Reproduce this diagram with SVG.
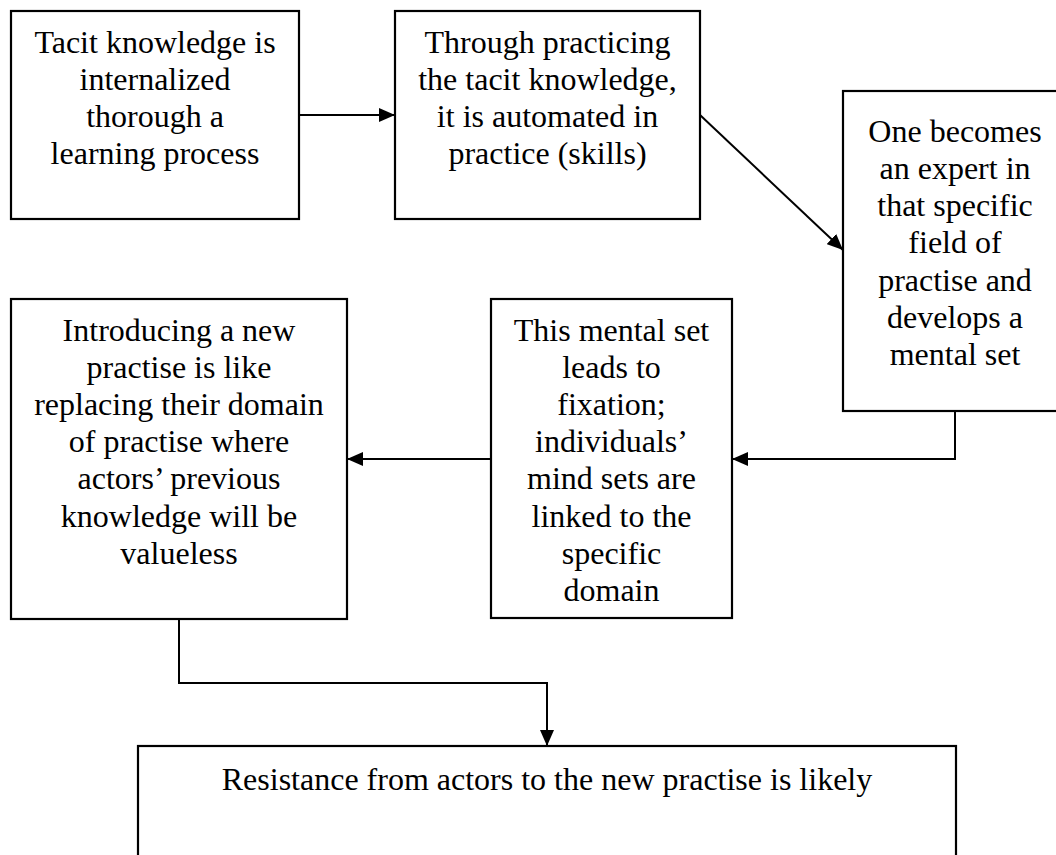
<svg xmlns="http://www.w3.org/2000/svg" width="1056" height="855" viewBox="0 0 1056 855">
<style>
.box{fill:#fff;stroke:#000;stroke-width:2.2}
.t{font-family:"Liberation Serif","Times New Roman",serif;font-size:32px;fill:#000;text-anchor:middle}
.c{fill:none;stroke:#000;stroke-width:2}
</style>
<defs>
<marker id="ah" markerUnits="userSpaceOnUse" markerWidth="16" markerHeight="14" refX="16" refY="7" orient="auto" viewBox="0 0 16 14">
<path d="M0,0 L16,7 L0,14 z" fill="#000"/>
</marker>
</defs>
<rect width="1056" height="855" fill="#fff"/>
<g id="n1">
<rect class="box" x="11" y="11" width="288" height="208"/>
<text class="t" x="155" y="52.5">Tacit knowledge is</text>
<text class="t" x="155" y="89.7">internalized</text>
<text class="t" x="155" y="126.9">thorough a</text>
<text class="t" x="155" y="164.1">learning process</text>
</g>
<g id="n2">
<rect class="box" x="395" y="11" width="305" height="208"/>
<text class="t" x="547.5" y="52.5">Through practicing</text>
<text class="t" x="547.5" y="89.7">the tacit knowledge,</text>
<text class="t" x="547.5" y="126.9">it is automated in</text>
<text class="t" x="547.5" y="164.1">practice (skills)</text>
</g>
<g id="n3">
<rect class="box" x="843" y="91" width="224" height="320"/>
<text class="t" x="955" y="141.7">One becomes</text>
<text class="t" x="955" y="178.9">an expert in</text>
<text class="t" x="955" y="216.1">that specific</text>
<text class="t" x="955" y="253.3">field of</text>
<text class="t" x="955" y="290.5">practise and</text>
<text class="t" x="955" y="327.7">develops a</text>
<text class="t" x="955" y="364.9">mental set</text>
</g>
<g id="n4">
<rect class="box" x="11" y="299" width="336" height="320"/>
<text class="t" x="179" y="340.5">Introducing a new</text>
<text class="t" x="179" y="377.7">practise is like</text>
<text class="t" x="179" y="414.9">replacing their domain</text>
<text class="t" x="179" y="452.1">of practise where</text>
<text class="t" x="179" y="489.3">actors’ previous</text>
<text class="t" x="179" y="526.5">knowledge will be</text>
<text class="t" x="179" y="563.7">valueless</text>
</g>
<g id="n5">
<rect class="box" x="491" y="299" width="241" height="319"/>
<text class="t" x="611.5" y="340.5">This mental set</text>
<text class="t" x="611.5" y="377.7">leads to</text>
<text class="t" x="611.5" y="414.9">fixation;</text>
<text class="t" x="611.5" y="452.1">individuals’</text>
<text class="t" x="611.5" y="489.3">mind sets are</text>
<text class="t" x="611.5" y="526.5">linked to the</text>
<text class="t" x="611.5" y="563.7">specific</text>
<text class="t" x="611.5" y="600.9">domain</text>
</g>
<g id="n6">
<rect class="box" x="138" y="746" width="818" height="130"/>
<text class="t" x="547" y="790">Resistance from actors to the new practise is likely</text>
</g>
<g id="connectors">
<line class="c" x1="299" y1="115" x2="395" y2="115" marker-end="url(#ah)"/>
<line class="c" x1="700" y1="115" x2="843" y2="250" marker-end="url(#ah)"/>
<polyline class="c" points="955,411 955,459 732,459" marker-end="url(#ah)"/>
<line class="c" x1="491" y1="459" x2="347" y2="459" marker-end="url(#ah)"/>
<polyline class="c" points="179,619 179,683 547,683 547,746" marker-end="url(#ah)"/>
</g>
</svg>
